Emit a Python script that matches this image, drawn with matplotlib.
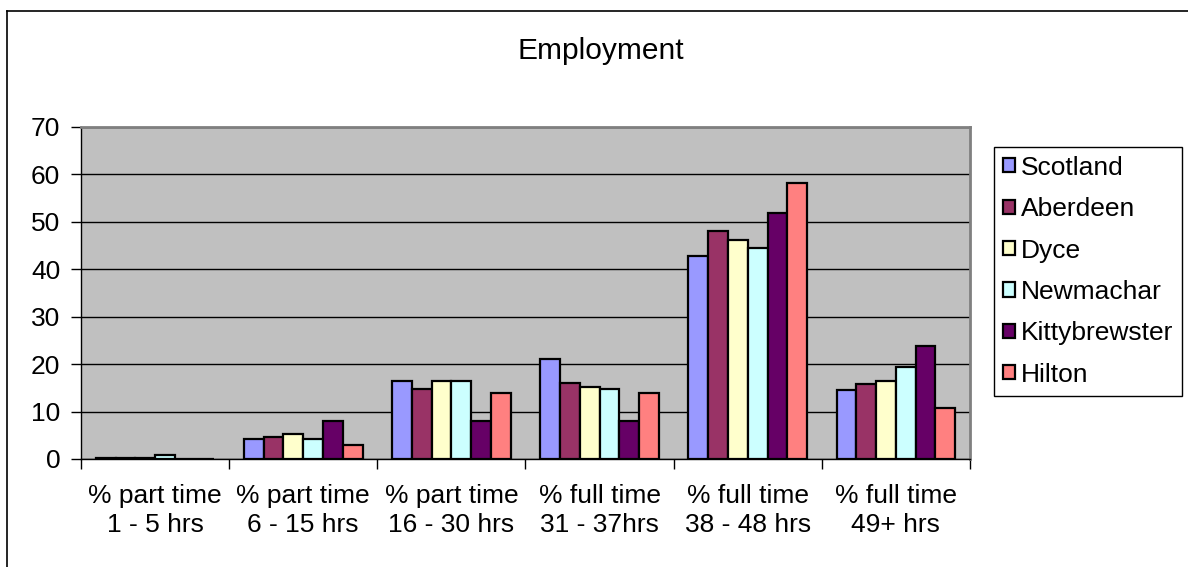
import numpy as np
import matplotlib.pyplot as plt
from matplotlib.lines import Line2D

plt.rcParams['font.family'] = ['Liberation Sans', 'DejaVu Sans']

categories = ['% part time\n1 - 5 hrs', '% part time\n6 - 15 hrs', '% part time\n16 - 30 hrs',
              '% full time\n31 - 37hrs', '% full time\n38 - 48 hrs', '% full time\n49+ hrs']
areas = ['Scotland', 'Aberdeen', 'Dyce', 'Newmachar', 'Kittybrewster', 'Hilton']
colors = ['#9999FF', '#993366', '#FFFFCC', '#CCFFFF', '#660066', '#FF8080']

scotland = [0.3, 4.2, 16.5, 21.1, 42.8, 14.6]
aberdeen = [0.3, 4.7, 14.8, 16.1, 48.0, 15.9]
dyce = [0.3, 5.2, 16.5, 15.2, 46.2, 16.4]
newmachar = [0.8, 4.2, 16.5, 14.8, 44.5, 19.3]
kittybrewster = [0.0, 8.1, 8.1, 8.1, 51.8, 23.9]
hilton = [0.0, 2.9, 14.0, 14.0, 58.1, 10.8]
series = [scotland, aberdeen, dyce, newmachar, kittybrewster, hilton]

fig = plt.figure(figsize=(11.88, 5.67), dpi=100)
ax = fig.add_axes([81 / 1188, 1 - 459 / 567, (970 - 81) / 1188, (459 - 127) / 567])

x = np.arange(len(categories))
w = 1 / 7.5
for i, (name, vals, c) in enumerate(zip(areas, series, colors)):
    ax.bar(x + (i - 2.5) * w, vals, w, color=c, edgecolor='black', linewidth=1.6, label=name, zorder=3)

ax.set_facecolor('#C0C0C0')
ax.set_xlim(-0.5, 5.5)
ax.set_ylim(0, 70)
ax.set_yticks(range(0, 71, 10))
ax.yaxis.grid(True, color='black', linewidth=1)
ax.set_axisbelow(True)

ax.set_xticks(x)
ax.set_xticklabels(categories, fontsize=19, linespacing=1.25)
ax.set_xticks(np.arange(-0.5, 6, 1), minor=True)
ax.tick_params(axis='x', which='major', length=0, pad=18)
ax.tick_params(axis='x', which='minor', length=7, width=1, direction='out')
ax.tick_params(axis='y', labelsize=19, length=7, width=1, pad=8)

for s in ['top', 'right']:
    ax.spines[s].set_color('#808080')
    ax.spines[s].set_linewidth(2)
for s in ['left', 'bottom']:
    ax.spines[s].set_color('black')
    ax.spines[s].set_linewidth(1)

fig.suptitle('Employment', fontsize=21.5, x=601 / 1188, y=1 - 37 / 567, va='top')

leg = fig.legend(loc='upper left', bbox_to_anchor=(994 / 1188, 1 - 147 / 567), fontsize=19,
                 handlelength=0.45, handleheight=0.45, handletextpad=0.25, labelspacing=0.66,
                 borderpad=0.33, borderaxespad=0, fancybox=False, framealpha=1)
leg.get_frame().set_edgecolor('black')
leg.get_frame().set_linewidth(1)

# outer chart border (left and top only, as in the reference crop)
fig.add_artist(Line2D([7 / 1188, 7 / 1188], [0, 1 - 11 / 567], color='black', linewidth=1.2))
fig.add_artist(Line2D([7 / 1188, 1], [1 - 11 / 567, 1 - 11 / 567], color='black', linewidth=1.2))

fig.savefig('out.png', dpi=100)
